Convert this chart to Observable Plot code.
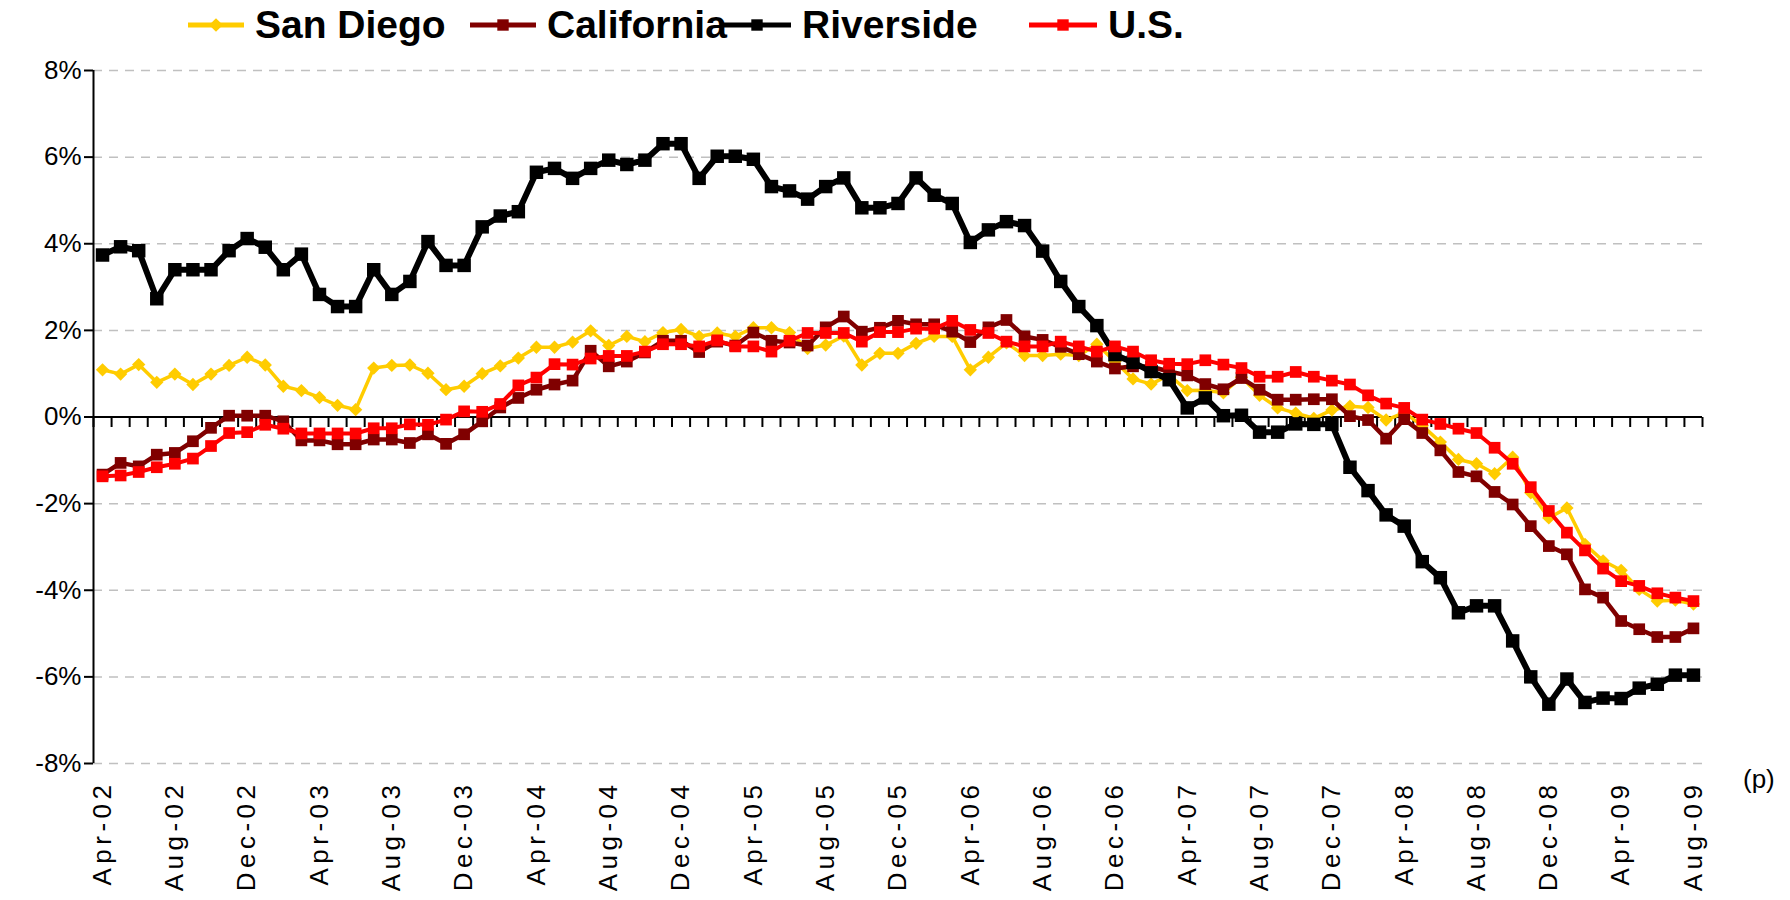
<!DOCTYPE html>
<html>
<head>
<meta charset="utf-8">
<script src="https://cdn.jsdelivr.net/npm/d3@7"></script>
<script src="https://cdn.jsdelivr.net/npm/@observablehq/plot@0.6"></script>
<style>
  html, body { margin: 0; padding: 0; background: #fff; }
  body { width: 1790px; height: 900px; position: relative; overflow: hidden; font-family: "Liberation Sans", Arial, sans-serif; }
  #legend { position: relative; height: 50px; }
  .item { position: absolute; top: 0; height: 50px; display: flex; align-items: center; }
  .item span { font-weight: bold; font-size: 39px; margin-left: 9px; color: #000; }
  #p { position: absolute; left: 1743px; top: 764px; font-size: 26px; }
  #chart svg g[aria-label="x-axis tick label"] text { letter-spacing: 4.5px; }
</style>
</head>
<body>
<div id="legend"></div>
<div id="chart"></div>
<div id="p">(p)</div>
<script>
// ---- data ----
const tickLabels = ["Apr-02","Aug-02","Dec-02","Apr-03","Aug-03","Dec-03","Apr-04","Aug-04","Dec-04","Apr-05","Aug-05","Dec-05","Apr-06","Aug-06","Dec-06","Apr-07","Aug-07","Dec-07","Apr-08","Aug-08","Dec-08","Apr-09","Aug-09"];
const months = d3.utcMonth.range(new Date(Date.UTC(2002, 3, 1)), new Date(Date.UTC(2009, 8, 1))).map(d3.utcFormat("%b-%y"));
const yTicks = [-8, -6, -4, -2, 0, 2, 4, 6, 8];

const sanDiego = [1.09,0.99,1.21,0.80,0.99,0.75,0.99,1.19,1.38,1.20,0.71,0.61,0.45,0.27,0.17,1.13,1.19,1.20,1.01,0.63,
  0.71,1.00,1.18,1.36,1.61,1.61,1.73,1.99,1.65,1.86,1.74,1.95,2.02,1.86,1.94,1.86,2.06,2.06,1.95,1.58,
  1.66,1.87,1.20,1.47,1.47,1.70,1.86,1.86,1.09,1.38,1.71,1.42,1.42,1.45,1.42,1.68,1.28,0.88,0.76,0.97,
  0.61,0.62,0.56,0.92,0.50,0.21,0.09,-0.03,0.16,0.25,0.22,-0.07,0.10,-0.20,-0.58,-0.98,-1.08,-1.31,-0.93,-1.75,
  -2.33,-2.10,-2.94,-3.32,-3.54,-3.98,-4.25,-4.23,-4.32];
const california = [-1.33,-1.06,-1.14,-0.87,-0.83,-0.56,-0.25,0.03,0.03,0.03,-0.10,-0.54,-0.54,-0.63,-0.63,-0.52,-0.52,-0.60,-0.40,-0.62,
  -0.40,-0.10,0.22,0.44,0.63,0.75,0.84,1.53,1.17,1.28,1.49,1.76,1.76,1.50,1.74,1.65,1.95,1.76,1.72,1.65,
  2.07,2.32,1.97,2.06,2.22,2.14,2.14,1.97,1.73,2.07,2.24,1.86,1.78,1.62,1.45,1.28,1.12,1.17,1.16,1.05,
  0.96,0.76,0.64,0.90,0.63,0.40,0.40,0.41,0.41,0.02,-0.07,-0.50,-0.05,-0.37,-0.77,-1.27,-1.37,-1.73,-2.02,-2.52,
  -2.98,-3.17,-3.98,-4.17,-4.71,-4.90,-5.08,-5.08,-4.88];
const riverside = [3.74,3.93,3.84,2.73,3.40,3.40,3.40,3.84,4.12,3.92,3.40,3.76,2.83,2.55,2.55,3.40,2.83,3.13,4.05,3.50,
  3.50,4.39,4.64,4.74,5.65,5.74,5.51,5.74,5.93,5.83,5.93,6.31,6.31,5.51,6.02,6.02,5.95,5.32,5.22,5.03,
  5.32,5.52,4.83,4.83,4.93,5.52,5.12,4.93,4.03,4.32,4.51,4.42,3.83,3.13,2.55,2.11,1.44,1.26,1.05,0.86,
  0.21,0.44,0.03,0.04,-0.35,-0.35,-0.16,-0.17,-0.17,-1.16,-1.70,-2.26,-2.52,-3.34,-3.71,-4.52,-4.36,-4.36,-5.17,-6.00,
  -6.63,-6.05,-6.59,-6.49,-6.50,-6.26,-6.17,-5.96,-5.96];
const us = [-1.37,-1.35,-1.27,-1.16,-1.08,-0.96,-0.67,-0.37,-0.35,-0.18,-0.27,-0.38,-0.38,-0.38,-0.38,-0.26,-0.26,-0.17,-0.18,-0.06,
  0.13,0.12,0.30,0.73,0.91,1.22,1.21,1.35,1.41,1.41,1.51,1.68,1.68,1.63,1.77,1.63,1.63,1.51,1.76,1.94,
  1.94,1.94,1.74,1.96,1.96,2.04,2.04,2.22,2.01,1.94,1.74,1.63,1.63,1.74,1.63,1.51,1.63,1.51,1.31,1.23,
  1.22,1.31,1.21,1.13,0.93,0.93,1.04,0.93,0.84,0.75,0.50,0.31,0.21,-0.06,-0.16,-0.27,-0.37,-0.71,-1.08,-1.62,
  -2.17,-2.67,-3.08,-3.50,-3.79,-3.90,-4.07,-4.17,-4.25];

const seriesNames = ["San Diego", "California", "Riverside", "U.S."];
const seriesValues = [sanDiego, california, riverside, us];
const seriesColors = ["#FFCC00", "#800000", "#000000", "#FF0000"];
const seriesSymbols = ["diamond2", "square", "square", "square"];
const seriesR = [6.0, 6.6, 7.6, 6.6];
const seriesWidth = [3.5, 4.5, 6, 4];

// ---- build ----
const n = months.length;
const xDomain = [-0.5, n - 0.5];
const boundaries = d3.range(n + 1).map(k => k - 0.5);
const labelIdx = tickLabels.map(l => months.indexOf(l));

const tickSym = { draw(ctx) { ctx.moveTo(0, 0); ctx.lineTo(0, 10); } };

const seriesMarks = seriesNames.flatMap((name, s) => {
  const rows = seriesValues[s].map((v, i) => ({ i, v }));
  return [
    Plot.line(rows, { x: "i", y: "v", stroke: seriesColors[s], strokeWidth: seriesWidth[s], strokeLinejoin: "miter" }),
    Plot.dot(rows, { x: "i", y: "v", symbol: seriesSymbols[s], r: seriesR[s], fill: seriesColors[s], stroke: "none" })
  ];
});

const chart = Plot.plot({
  width: 1790,
  height: 850,
  marginTop: 20,
  marginBottom: 137,
  marginLeft: 93,
  marginRight: 88,
  x: { type: "linear", domain: xDomain, label: null },
  y: { domain: [-8, 8], label: null },
  style: { fontFamily: "'Liberation Sans', Arial, sans-serif", fontSize: "26px", color: "#000", background: "#fff", overflow: "visible" },
  marks: [
    Plot.gridY(yTicks.filter(d => d !== 0), { stroke: "#c0c0c0", strokeOpacity: 1, strokeWidth: 1.5, strokeDasharray: "9,7" }),
    Plot.axisY(yTicks, { tickFormat: d => d + "%", tickSize: 9, tickPadding: 3, fontSize: 26, strokeWidth: 2, label: null }),
    Plot.axisX(labelIdx, { tickFormat: d => months[d], tickRotate: -90, tickSize: 0, tickPadding: 17, fontSize: 26, label: null }),
    Plot.ruleX([xDomain[0]], { stroke: "#000", strokeWidth: 2 }),
    Plot.ruleY([0], { stroke: "#000", strokeWidth: 2 }),
    Plot.dot(boundaries, { x: d => d, y: () => 0, symbol: tickSym, stroke: "#000", strokeWidth: 2, fill: "none" }),
    ...seriesMarks
  ]
});
document.getElementById("chart").appendChild(chart);
d3.select(chart).selectAll('g[aria-label="x-axis tick label"] text').style("letter-spacing", "4.5px");

// ---- legend ----
const legendLeft = [186, 468, 721, 1027];
const legendSwatch = [60, 70, 72, 72];
const legend = d3.select("#legend");
seriesNames.forEach((name, s) => {
  const w = legendSwatch[s];
  const item = legend.append("div").attr("class", "item").style("left", legendLeft[s] + "px");
  const sw = item.append("svg").attr("width", w).attr("height", 30);
  sw.append("line").attr("x1", 2).attr("x2", w - 2).attr("y1", 15).attr("y2", 15)
    .attr("stroke", seriesColors[s]).attr("stroke-width", 5);
  const sym = s === 0 ? d3.symbolDiamond2 : d3.symbolSquare;
  sw.append("path").attr("transform", `translate(${w / 2},15)`)
    .attr("d", d3.symbol(sym, s === 0 ? 120 : 130)()).attr("fill", seriesColors[s]);
  item.append("span").text(name);
});
</script>
</body>
</html>
